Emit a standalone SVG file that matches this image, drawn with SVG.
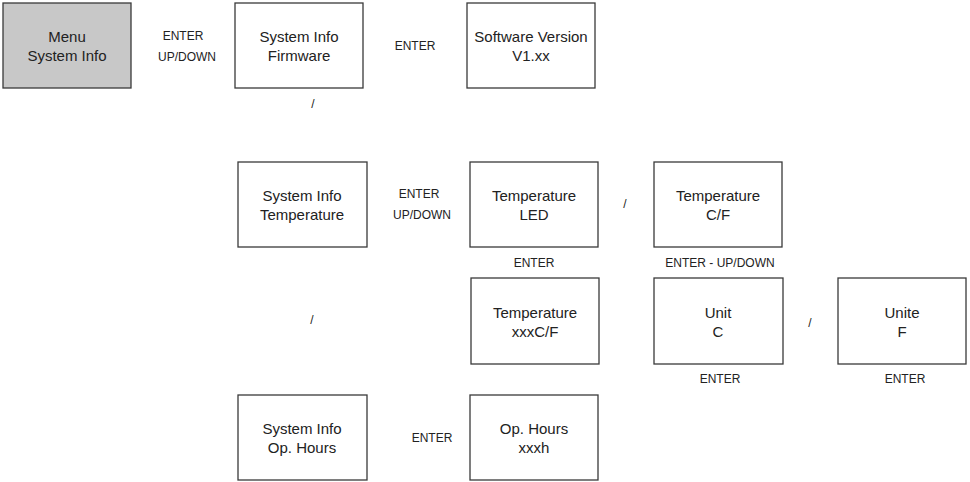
<svg xmlns="http://www.w3.org/2000/svg" width="970" height="482" viewBox="0 0 970 482">
<style>
.box{fill:#fff;stroke:#3a3a3a;stroke-width:1.3}
.sel{fill:#c8c8c8}
.t{font-family:"Liberation Sans",Arial,sans-serif;font-size:15px;fill:#222;text-anchor:middle}
.l{font-family:"Liberation Sans",Arial,sans-serif;font-size:12px;fill:#222;text-anchor:middle}
</style>
<rect width="970" height="482" fill="#fff"/>
<g id="menu"><rect class="box sel" x="3" y="3" width="128" height="85"/><text class="t" x="67" y="42">Menu</text><text class="t" x="67" y="61">System Info</text></g>
<g id="firmware"><rect class="box" x="235" y="3" width="128" height="85"/><text class="t" x="299" y="42">System Info</text><text class="t" x="299" y="61">Firmware</text></g>
<g id="swver"><rect class="box" x="467" y="3" width="128" height="85"/><text class="t" x="531" y="42">Software Version</text><text class="t" x="531" y="61">V1.xx</text></g>
<g id="sitemp"><rect class="box" x="238" y="162" width="129" height="85"/><text class="t" x="302" y="201">System Info</text><text class="t" x="302" y="220">Temperature</text></g>
<g id="templed"><rect class="box" x="470" y="162" width="128" height="85"/><text class="t" x="534" y="201">Temperature</text><text class="t" x="534" y="220">LED</text></g>
<g id="tempcf"><rect class="box" x="654" y="162" width="128" height="85"/><text class="t" x="718" y="201">Temperature</text><text class="t" x="718" y="220">C/F</text></g>
<g id="tempxxx"><rect class="box" x="471" y="278" width="128" height="86"/><text class="t" x="535" y="318">Temperature</text><text class="t" x="535" y="337">xxxC/F</text></g>
<g id="unitc"><rect class="box" x="654" y="278" width="129" height="86"/><text class="t" x="718" y="318">Unit</text><text class="t" x="718" y="337">C</text></g>
<g id="unitf"><rect class="box" x="838" y="278" width="128" height="86"/><text class="t" x="902" y="318">Unite</text><text class="t" x="902" y="337">F</text></g>
<g id="siophours"><rect class="box" x="238" y="395" width="129" height="85"/><text class="t" x="302" y="434">System Info</text><text class="t" x="302" y="453">Op. Hours</text></g>
<g id="ophours"><rect class="box" x="470" y="395" width="128" height="85"/><text class="t" x="534" y="434">Op. Hours</text><text class="t" x="534" y="453">xxxh</text></g>
<g id="connectors">
<text class="l" x="183" y="40">ENTER</text><text class="l" x="187" y="61">UP/DOWN</text>
<text class="l" x="313" y="108">/</text>
<text class="l" x="415" y="50">ENTER</text>
<text class="l" x="419" y="198">ENTER</text><text class="l" x="422" y="219">UP/DOWN</text>
<text class="l" x="625" y="208">/</text>
<text class="l" x="534" y="267">ENTER</text>
<text class="l" x="720" y="267">ENTER - UP/DOWN</text>
<text class="l" x="312" y="324">/</text>
<text class="l" x="810" y="327">/</text>
<text class="l" x="720" y="383">ENTER</text>
<text class="l" x="905" y="383">ENTER</text>
<text class="l" x="432" y="442">ENTER</text>
</g>
</svg>
